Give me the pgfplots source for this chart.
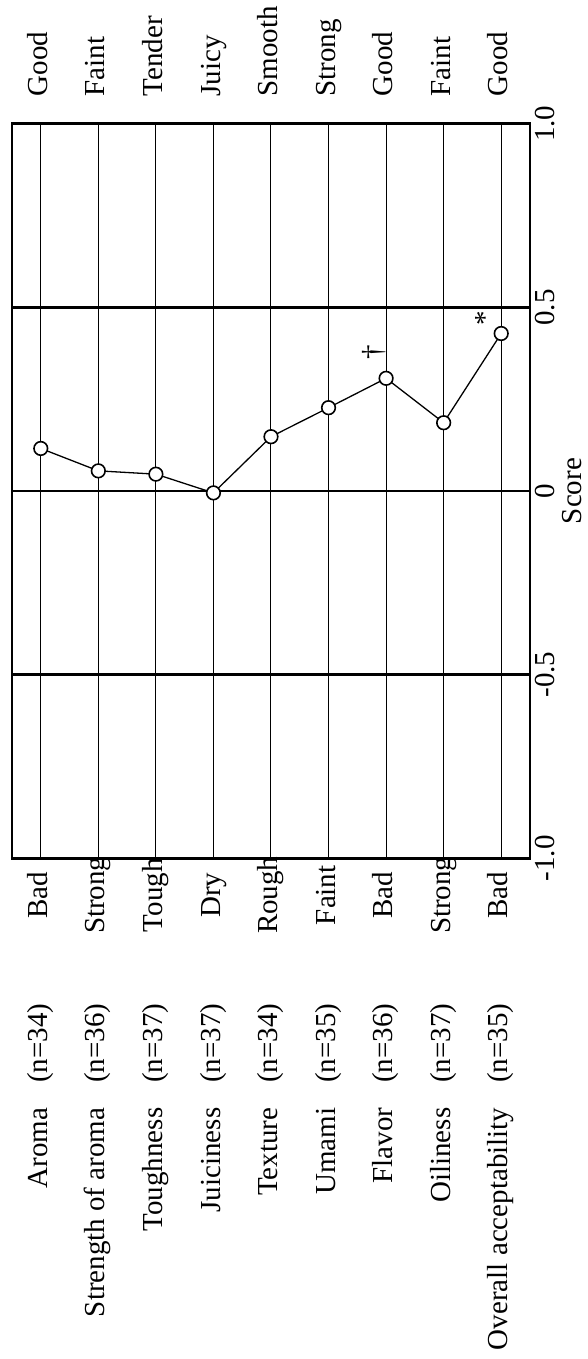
\documentclass[border=0pt]{standalone}
\usepackage{pgfplots}
\pgfplotsset{compat=1.18}
\usepackage{fontspec}
\setmainfont{Liberation Serif}
\newcommand{\lf}{\fontsize{14.5}{17}\selectfont}
\begin{document}
\begin{tikzpicture}[font=\lf,
  lab/.style={rotate=90, inner sep=0pt, text height=0.66em, text depth=0pt}]
\path[use as bounding box] (-6pt,-250.35pt) rectangle (288pt,429.15pt);
\begin{axis}[
  at={(0pt,0pt)}, anchor=south west,
  scale only axis, width=259pt, height=367.25pt,
  xmin=-0.5, xmax=8.5, ymin=-1, ymax=1,
  xtick={0,1,2,3,4,5,6,7,8}, xticklabels={},
  ytick={-1,-0.5,0,0.5,1},
  yticklabels={-1.0,-0.5,0,0.5,1.0},
  yticklabel pos=right,
  major tick length=0pt,
  xmajorgrids, ymajorgrids,
  x grid style={black, line width=0.5pt},
  y grid style={black, line width=1.4pt},
  axis line style={black, line width=1.4pt},
  y tick label style={rotate=90, anchor=north, inner sep=2.5pt, font=\lf},
  clip=false,
]
\addplot[black, line width=0.65pt, mark=*, mark size=3.4pt,
  mark options={fill=white, draw=black, line width=0.8pt}]
  coordinates {(0,0.116) (1,0.055) (2,0.046) (3,-0.005) (4,0.148) (5,0.227) (6,0.307) (7,0.186) (8,0.429)};

\node[rotate=90, anchor=base] at (axis cs:5.937,0.379) {\textdagger};
\node[rotate=90, anchor=base] at (axis cs:7.875,0.471) {*};

\node[rotate=90, anchor=north, inner sep=0pt] at ([xshift=16pt]axis cs:8.5,0) {Score};

% positive-side labels (top)
\node[lab, anchor=west] at ([yshift=13.5pt]axis cs:0,1) {Good};
\node[lab, anchor=west] at ([yshift=13.5pt]axis cs:1,1) {Faint};
\node[lab, anchor=west] at ([yshift=13.5pt]axis cs:2,1) {Tender};
\node[lab, anchor=west] at ([yshift=13.5pt]axis cs:3,1) {Juicy};
\node[lab, anchor=west] at ([yshift=13.5pt]axis cs:4,1) {Smooth};
\node[lab, anchor=west] at ([yshift=13.5pt]axis cs:5,1) {Strong};
\node[lab, anchor=west] at ([yshift=13.5pt]axis cs:6,1) {Good};
\node[lab, anchor=west] at ([yshift=13.5pt]axis cs:7,1) {Faint};
\node[lab, anchor=west] at ([yshift=13.5pt]axis cs:8,1) {Good};

% negative-side labels (bottom)
\node[lab, anchor=center] at ([yshift=-18.5pt]axis cs:0,-1) {Bad};
\node[lab, anchor=center] at ([yshift=-18.5pt]axis cs:1,-1) {Strong};
\node[lab, anchor=center] at ([yshift=-18.5pt]axis cs:2,-1) {Tough};
\node[lab, anchor=center] at ([yshift=-18.5pt]axis cs:3,-1) {Dry};
\node[lab, anchor=center] at ([yshift=-18.5pt]axis cs:4,-1) {Rough};
\node[lab, anchor=center] at ([yshift=-18.5pt]axis cs:5,-1) {Faint};
\node[lab, anchor=center] at ([yshift=-18.5pt]axis cs:6,-1) {Bad};
\node[lab, anchor=center] at ([yshift=-18.5pt]axis cs:7,-1) {Strong};
\node[lab, anchor=center] at ([yshift=-18.5pt]axis cs:8,-1) {Bad};

% attribute names
\node[lab, anchor=east] at ([yshift=-124.5pt]axis cs:0,-1) {Aroma};
\node[lab, anchor=east] at ([yshift=-124.5pt]axis cs:1,-1) {Strength of aroma};
\node[lab, anchor=east] at ([yshift=-124.5pt]axis cs:2,-1) {Toughness};
\node[lab, anchor=east] at ([yshift=-124.5pt]axis cs:3,-1) {Juiciness};
\node[lab, anchor=east] at ([yshift=-124.5pt]axis cs:4,-1) {Texture};
\node[lab, anchor=east] at ([yshift=-124.5pt]axis cs:5,-1) {Umami};
\node[lab, anchor=east] at ([yshift=-124.5pt]axis cs:6,-1) {Flavor};
\node[lab, anchor=east] at ([yshift=-124.5pt]axis cs:7,-1) {Oiliness};
\node[lab, anchor=east] at ([yshift=-124.5pt]axis cs:8,-1) {Overall acceptability};

% sample sizes
\node[lab, anchor=west] at ([yshift=-112.5pt]axis cs:0,-1) {(n=34)};
\node[lab, anchor=west] at ([yshift=-112.5pt]axis cs:1,-1) {(n=36)};
\node[lab, anchor=west] at ([yshift=-112.5pt]axis cs:2,-1) {(n=37)};
\node[lab, anchor=west] at ([yshift=-112.5pt]axis cs:3,-1) {(n=37)};
\node[lab, anchor=west] at ([yshift=-112.5pt]axis cs:4,-1) {(n=34)};
\node[lab, anchor=west] at ([yshift=-112.5pt]axis cs:5,-1) {(n=35)};
\node[lab, anchor=west] at ([yshift=-112.5pt]axis cs:6,-1) {(n=36)};
\node[lab, anchor=west] at ([yshift=-112.5pt]axis cs:7,-1) {(n=37)};
\node[lab, anchor=west] at ([yshift=-112.5pt]axis cs:8,-1) {(n=35)};
\end{axis}
\end{tikzpicture}
\end{document}
